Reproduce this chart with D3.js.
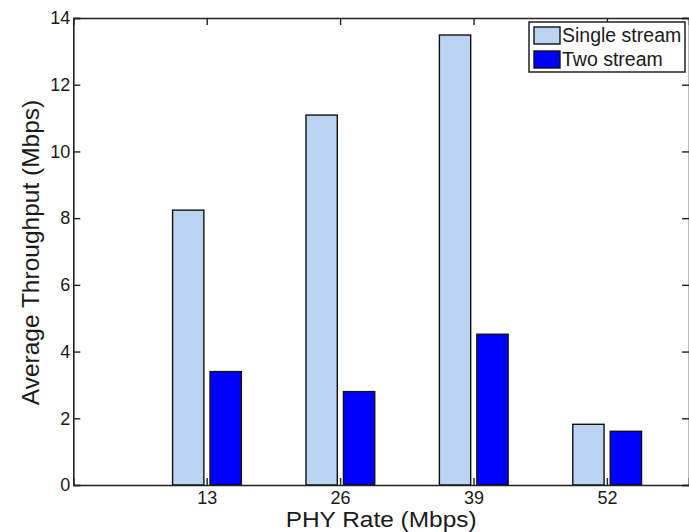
<!DOCTYPE html>
<html>
<head>
<meta charset="utf-8">
<script src="https://cdn.jsdelivr.net/npm/d3@7"></script>
<style>
  body { margin: 0; background: #fff; }
  text { font-family: "Liberation Sans", Arial, sans-serif; fill: #1a1a1a; }
</style>
</head>
<body>
<script>
var rates = [13, 26, 39, 52];
var singleStream = [8.24, 11.09, 13.49, 1.82];
var twoStream = [3.40, 2.80, 4.52, 1.61];
var yTicks = [0, 2, 4, 6, 8, 10, 12, 14];
var seriesNames = ["Single stream", "Two stream"];
var seriesColors = ["#bad4f1", "#0000ff"];

var width = 689, height = 532;
var plotLeft = 73.3, plotTop = 18, plotRight = 689, plotBottom = 485;

var x = d3.scaleLinear().domain([0, 60]).range([plotLeft, plotRight]);
var y = d3.scaleLinear().domain([0, 14]).range([plotBottom, plotTop]);

var svg = d3.select("body").append("svg")
    .attr("width", width)
    .attr("height", height);

// bars, grouped around each rate
var barW = x(3.05) - x(0);
var offsets = [-1.8, 1.85];
var series = [singleStream, twoStream];

series.forEach(function(vals, s) {
  svg.append("g").selectAll("rect")
    .data(vals)
    .enter().append("rect")
      .attr("x", function(d, i){ return x(rates[i] + offsets[s]) - barW / 2; })
      .attr("y", function(d){ return y(d); })
      .attr("width", barW)
      .attr("height", function(d){ return y(0) - y(d); })
      .attr("fill", seriesColors[s])
      .attr("stroke", "#111")
      .attr("stroke-width", 1.4);
});

// axes (box style, ticks inward)
var yAxis = d3.axisLeft(y).tickValues(yTicks).tickSize(-7).tickPadding(3).tickFormat(d3.format("d"));
var xAxis = d3.axisBottom(x).tickValues(rates).tickSize(-7).tickPadding(6).tickFormat(d3.format("d"));

var gy = svg.append("g").attr("transform", "translate(" + plotLeft + ",0)").call(yAxis);
var gx = svg.append("g").attr("transform", "translate(0," + plotBottom + ")").call(xAxis);
var gt = svg.append("g").attr("transform", "translate(0," + plotTop + ")")
    .call(d3.axisTop(x).tickValues(rates).tickSize(-7).tickFormat(""));
var gr = svg.append("g").attr("transform", "translate(" + plotRight + ",0)")
    .call(d3.axisRight(y).tickValues(yTicks).tickSize(-7).tickFormat(""));

[gx, gy, gt, gr].forEach(function(g) {
  g.select(".domain").attr("stroke", "#222").attr("stroke-width", 1.6);
  g.selectAll(".tick line").attr("stroke", "#222").attr("stroke-width", 1.4);
  g.selectAll("text").style("font-size", "18px").attr("fill", "#1a1a1a");
});

// axis titles
svg.append("text")
    .attr("x", (plotLeft + plotRight) / 2)
    .attr("y", 527)
    .attr("text-anchor", "middle")
    .attr("textLength", 191)
    .attr("lengthAdjust", "spacingAndGlyphs")
    .style("font-size", "22px")
    .text("PHY Rate (Mbps)");

svg.append("text")
    .attr("transform", "translate(39," + ((plotTop + plotBottom) / 2 + 1) + ") rotate(-90)")
    .attr("text-anchor", "middle")
    .style("font-size", "24.5px")
    .text("Average Throughput (Mbps)");

// legend
var legend = svg.append("g").attr("transform", "translate(529,22)");
legend.append("rect")
    .attr("width", 156).attr("height", 50)
    .attr("fill", "#fff").attr("stroke", "#222").attr("stroke-width", 1.5);

var items = legend.selectAll("g.item")
    .data(seriesNames)
    .enter().append("g")
    .attr("transform", function(d, i){ return "translate(5," + (5 + i * 24) + ")"; });

items.append("rect")
    .attr("width", 26).attr("height", 17)
    .attr("fill", function(d, i){ return seriesColors[i]; })
    .attr("stroke", "#111").attr("stroke-width", 1.4);

items.append("text")
    .attr("x", 28).attr("y", 15)
    .style("font-size", "19.5px")
    .text(function(d){ return d; });
</script>
</body>
</html>
